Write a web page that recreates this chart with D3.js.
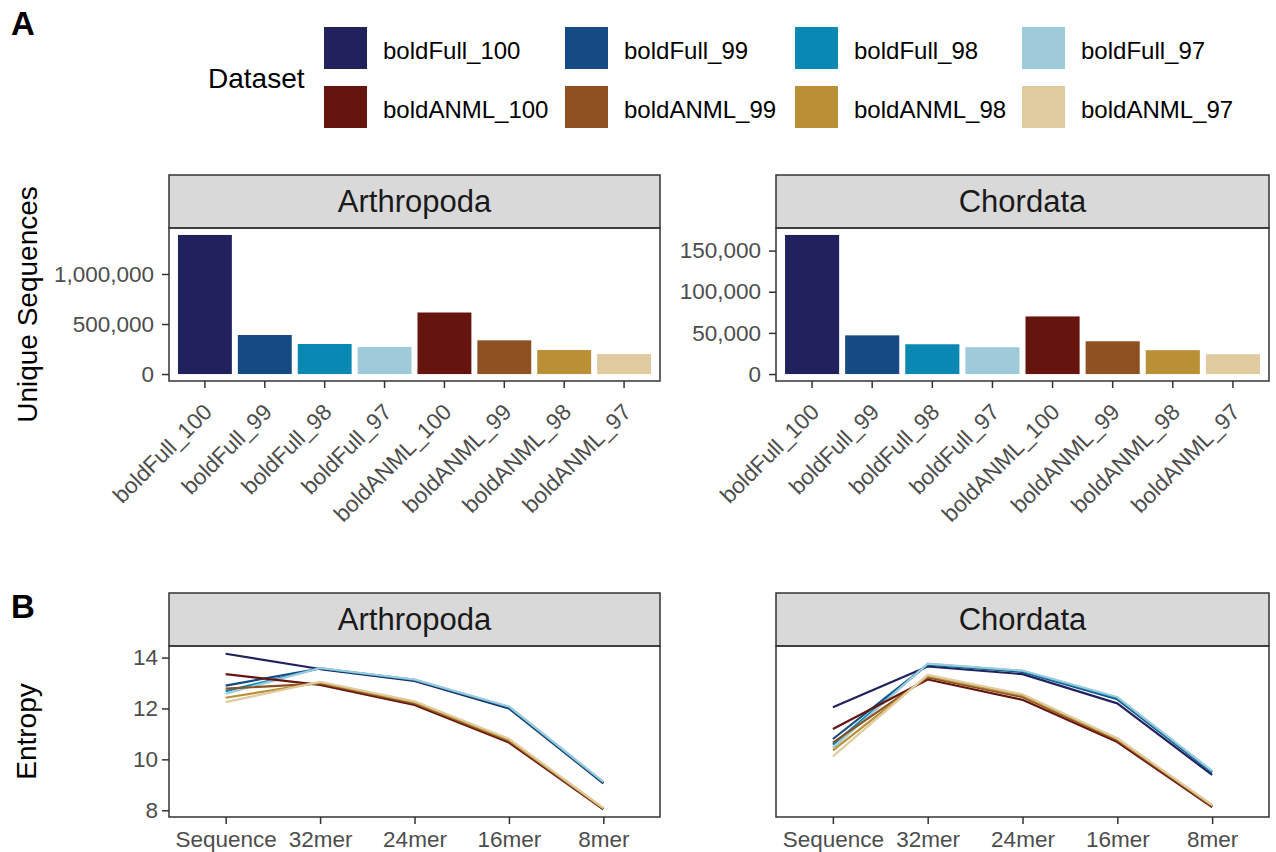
<!DOCTYPE html>
<html>
<head>
<meta charset="utf-8">
<script src="https://cdn.jsdelivr.net/npm/d3@7"></script>
<style>
    body { margin: 0; background: #fff; }
    svg, svg text { font-family: "Liberation Sans", Arial, Helvetica, sans-serif; }
    .axis path.domain { display: none; }
    .axis line { stroke: #333; stroke-width: 1.5; }
    .axis text { fill: #4d4d4d; font-size: 22.5px; font-family: "Liberation Sans", Arial, Helvetica, sans-serif; }
</style>
</head>
<body>
<svg width="1276" height="852"></svg>
<script>
    // ---- data ----
    var datasets = ["boldFull_100", "boldFull_99", "boldFull_98", "boldFull_97",
        "boldANML_100", "boldANML_99", "boldANML_98", "boldANML_97"];
    var taxa = ["Arthropoda", "Chordata"];

    var uniqueArthropoda = [1390000, 390000, 300000, 270000, 615000, 337000, 240000, 200000];
    var uniqueChordata = [169000, 47000, 36200, 32600, 70000, 39800, 29000, 24100];
    var ticksArthropoda = [0, 500000, 1000000];
    var ticksChordata = [0, 50000, 100000, 150000];

    var kmers = ["Sequence", "32mer", "24mer", "16mer", "8mer"];
    var entropyArthropoda = [
        [14.15, 13.55, 13.08, 12.00, 9.06],
        [12.90, 13.57, 13.11, 12.04, 9.09],
        [12.68, 13.58, 13.13, 12.06, 9.10],
        [12.58, 13.59, 13.14, 12.08, 9.12],
        [13.35, 12.93, 12.14, 10.66, 8.04],
        [12.78, 12.98, 12.20, 10.72, 8.06],
        [12.42, 13.02, 12.25, 10.77, 8.07],
        [12.25, 13.05, 12.28, 10.81, 8.09]
    ];
    var entropyChordata = [
        [12.05, 13.65, 13.35, 12.20, 9.39],
        [10.80, 13.72, 13.44, 12.36, 9.49],
        [10.58, 13.74, 13.47, 12.41, 9.52],
        [10.45, 13.76, 13.49, 12.45, 9.55],
        [11.19, 13.14, 12.34, 10.68, 8.12],
        [10.66, 13.22, 12.45, 10.75, 8.16],
        [10.35, 13.28, 12.51, 10.80, 8.19],
        [10.12, 13.32, 12.56, 10.83, 8.21]
    ];
    var ticksEntropy = [8, 10, 12, 14];

    var palette = ["#21225d", "#154a82", "#0888b3", "#9ecada",
        "#66140e", "#8d5122", "#ba9036", "#e0cba0"];

    var color = d3.scaleOrdinal().domain(datasets).range(palette);
    var svg = d3.select("svg");
    var fmt = d3.format(",");

    // panel geometry
    var cols = [{x0: 169, x1: 660}, {x0: 776, x1: 1269}];
    var rowA = {s0: 175, s1: 228, p1: 381};
    var rowB = {s0: 593, s1: 646, p1: 817};

    function strip(c, row, label) {
        svg.append("rect")
            .attr("x", c.x0).attr("y", row.s0)
            .attr("width", c.x1 - c.x0).attr("height", row.s1 - row.s0)
            .attr("fill", "#d9d9d9").attr("stroke", "#333").attr("stroke-width", 1.5);
        svg.append("text")
            .attr("x", (c.x0 + c.x1) / 2).attr("y", (row.s0 + row.s1) / 2)
            .attr("dy", "0.35em").attr("text-anchor", "middle")
            .attr("fill", "#1a1a1a").style("font-size", "31px")
            .text(label);
    }

    function border(c, row) {
        svg.append("rect")
            .attr("x", c.x0).attr("y", row.s1)
            .attr("width", c.x1 - c.x0).attr("height", row.p1 - row.s1)
            .attr("fill", "none").attr("stroke", "#333").attr("stroke-width", 1.5);
    }

    // ---- A: bar panels ----
    [uniqueArthropoda, uniqueChordata].forEach(function(values, i) {
        var c = cols[i];
        var ticks = i == 0 ? ticksArthropoda : ticksChordata;
        var max = d3.max(values);

        var x = d3.scaleBand().domain(datasets).range([c.x0, c.x1])
            .paddingInner(0.1).paddingOuter(0.15);
        var y = d3.scaleLinear().domain([-0.05 * max, 1.05 * max]).range([rowA.p1, rowA.s1]);

        strip(c, rowA, taxa[i]);

        svg.append("g").selectAll("rect")
            .data(values)
            .enter().append("rect")
            .attr("x", function(d, j) { return x(datasets[j]); })
            .attr("y", function(d) { return y(d); })
            .attr("width", x.bandwidth())
            .attr("height", function(d) { return y(0) - y(d); })
            .attr("fill", function(d, j) { return color(datasets[j]); });

        svg.append("g")
            .attr("class", "axis")
            .attr("transform", "translate(" + c.x0 + ",0)")
            .call(d3.axisLeft(y).tickValues(ticks).tickFormat(fmt).tickSize(7).tickPadding(8));

        var gx = svg.append("g")
            .attr("class", "axis")
            .attr("transform", "translate(0," + rowA.p1 + ")")
            .call(d3.axisBottom(x).tickSize(7));
        gx.selectAll("text")
            .attr("x", 0).attr("y", 0).attr("dy", "0.72em")
            .attr("text-anchor", "end")
            .attr("transform", "translate(-3,21) rotate(-45)");

        border(c, rowA);
    });

    // ---- B: entropy line panels ----
    var allEntropy = d3.merge(entropyArthropoda.concat(entropyChordata));
    var eMin = d3.min(allEntropy), eMax = d3.max(allEntropy), eR = eMax - eMin;

    [entropyArthropoda, entropyChordata].forEach(function(series, i) {
        var c = cols[i];
        var x = d3.scalePoint().domain(kmers).range([c.x0, c.x1]).padding(0.6);
        var y = d3.scaleLinear().domain([eMin - 0.05 * eR, eMax + 0.05 * eR]).range([rowB.p1, rowB.s1]);

        strip(c, rowB, taxa[i]);

        var line = d3.line()
            .x(function(d, j) { return x(kmers[j]); })
            .y(function(d) { return y(d); });

        svg.append("g").selectAll("path")
            .data(series)
            .enter().append("path")
            .attr("d", line)
            .attr("fill", "none")
            .attr("stroke", function(d, j) { return color(datasets[j]); })
            .attr("stroke-width", 2.2)
            .attr("stroke-linejoin", "round");

        if (i == 0) {
            svg.append("g")
                .attr("class", "axis")
                .attr("transform", "translate(" + c.x0 + ",0)")
                .call(d3.axisLeft(y).tickValues(ticksEntropy).tickFormat(d3.format("d"))
                    .tickSize(7).tickPadding(4));
        }

        var gx = svg.append("g")
            .attr("class", "axis")
            .attr("transform", "translate(0," + rowB.p1 + ")")
            .call(d3.axisBottom(x).tickSize(7));
        gx.selectAll("text").attr("y", 30).attr("dy", 0);

        border(c, rowB);
    });

    // ---- axis titles and tags ----
    svg.append("text")
        .attr("transform", "translate(37," + (rowA.s1 + rowA.p1) / 2 + ") rotate(-90)")
        .attr("text-anchor", "middle").style("font-size", "28px")
        .text("Unique Sequences");
    svg.append("text")
        .attr("transform", "translate(36," + (rowB.s1 + rowB.p1) / 2 + ") rotate(-90)")
        .attr("text-anchor", "middle").style("font-size", "28px")
        .text("Entropy");

    svg.append("text").attr("x", 11).attr("y", 35)
        .style("font-size", "33px").style("font-weight", "bold").text("A");
    svg.append("text").attr("x", 11).attr("y", 618)
        .style("font-size", "33px").style("font-weight", "bold").text("B");

    // ---- legend ----
    var colX = [324, 565, 795, 1022];
    var rowY = [27, 86];

    svg.append("text").attr("x", 208).attr("y", 88)
        .style("font-size", "28px").text("Dataset");

    var items = svg.append("g").selectAll("g")
        .data(datasets)
        .enter().append("g")
        .attr("transform", function(d, i) {
            return "translate(" + colX[i % 4] + "," + rowY[Math.floor(i / 4)] + ")";
        });
    items.append("rect")
        .attr("width", 43).attr("height", 42)
        .attr("fill", function(d) { return color(d); });
    items.append("text")
        .attr("x", 59).attr("y", 32)
        .style("font-size", "24px")
        .text(function(d) { return d; });
</script>
</body>
</html>
